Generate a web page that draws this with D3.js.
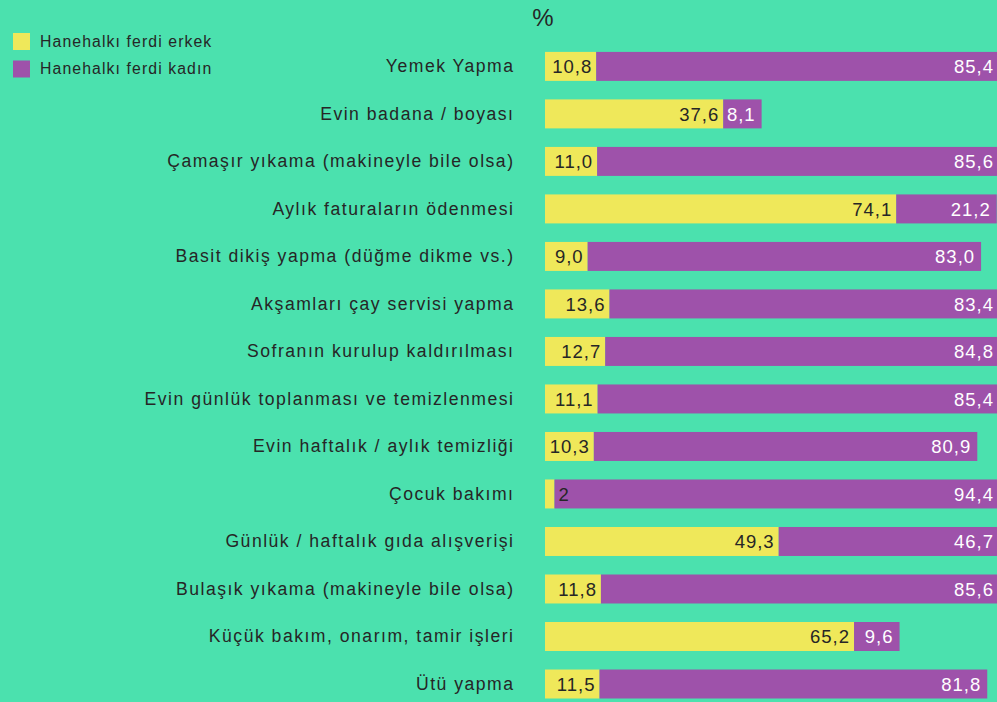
<!DOCTYPE html>
<head>
<meta charset="utf-8">
<script src="https://d3js.org/d3.v7.min.js"></script>
<style>
  body { margin: 0; background: #4be1ae; overflow: hidden; }
  text { font-family: "Liberation Sans", Arial, sans-serif; fill: #262626; }
  .cat { font-size: 17.6px; letter-spacing: 1.5px; }
  .val { font-size: 18.5px; letter-spacing: 1px; }
  .leg { font-size: 15.8px; letter-spacing: 1.1px; }
</style>
</head>
<body>
<script>
  var categories = [
    "Yemek Yapma",
    "Evin badana / boyası",
    "Çamaşır yıkama (makineyle bile olsa)",
    "Aylık faturaların ödenmesi",
    "Basit dikiş yapma (düğme dikme vs.)",
    "Akşamları çay servisi yapma",
    "Sofranın kurulup kaldırılması",
    "Evin günlük toplanması ve temizlenmesi",
    "Evin haftalık / aylık temizliği",
    "Çocuk bakımı",
    "Günlük / haftalık gıda alışverişi",
    "Bulaşık yıkama (makineyle bile olsa)",
    "Küçük bakım, onarım, tamir işleri",
    "Ütü yapma"
  ];
  var erkek = [10.8, 37.6, 11.0, 74.1, 9.0, 13.6, 12.7, 11.1, 10.3, 2, 49.3, 11.8, 65.2, 11.5];
  var kadin = [85.4, 8.1, 85.6, 21.2, 83.0, 83.4, 84.8, 85.4, 80.9, 94.4, 46.7, 85.6, 9.6, 81.8];
  var seriesNames = ["Hanehalkı ferdi erkek", "Hanehalkı ferdi kadın"];

  var W = 997, H = 702;
  var yellow = "#efe85a", purple = "#9e52aa";
  // narrow values are printed outside the bar without decimals
  var fmt = function(v) { return v < 5 ? String(Math.round(v)) : v.toFixed(1).replace(".", ","); };

  var svg = d3.select("body").append("svg").attr("width", W).attr("height", H);

  var x0 = 545;
  var x = d3.scaleLinear().domain([0, 100]).range([x0, x0 + 474]);
  var y = d3.scaleBand().domain(categories).range([42.4, 708]).paddingInner(0.39).paddingOuter(0.2);

  svg.append("text").attr("x", 543).attr("y", 26).attr("text-anchor", "middle")
    .style("font-size", "24px").text("%");

  var rows = svg.selectAll(".row").data(categories).enter().append("g")
    .attr("transform", function(d) { return "translate(0," + y(d) + ")"; });

  rows.append("text").classed("cat", true)
    .attr("x", 514.5).attr("y", y.bandwidth() / 2 + 6)
    .attr("text-anchor", "end")
    .text(function(d) { return d; });

  rows.append("rect")
    .attr("x", x(0))
    .attr("width", function(d, i) { return x(erkek[i]) - x(0); })
    .attr("height", y.bandwidth())
    .attr("fill", yellow);

  rows.append("rect")
    .attr("x", function(d, i) { return x(erkek[i]); })
    .attr("width", function(d, i) { return x(kadin[i]) - x(0); })
    .attr("height", y.bandwidth())
    .attr("fill", purple);

  // erkek labels: inside end, or just after the bar if too narrow
  rows.append("text").classed("val", true)
    .attr("x", function(d, i) { return erkek[i] < 5 ? x(erkek[i]) + 4 : x(erkek[i]) - 4; })
    .attr("y", y.bandwidth() / 2 + 7)
    .attr("text-anchor", function(d, i) { return erkek[i] < 5 ? "start" : "end"; })
    .text(function(d, i) { return fmt(erkek[i]); });

  rows.append("text").classed("val", true)
    .attr("x", function(d, i) { return Math.min(x(erkek[i] + kadin[i]), 1000) - 6; })
    .attr("y", y.bandwidth() / 2 + 7)
    .attr("text-anchor", "end")
    .style("fill", "#ffffff")
    .text(function(d, i) { return fmt(kadin[i]); });

  var legend = svg.selectAll(".legend").data(seriesNames).enter().append("g")
    .attr("transform", function(d, i) { return "translate(13," + (33 + i * 27.5) + ")"; });
  legend.append("rect").attr("width", 17).attr("height", 17)
    .attr("fill", function(d, i) { return i ? purple : yellow; });
  legend.append("text").classed("leg", true).attr("x", 27).attr("y", 13.5)
    .text(function(d) { return d; });
</script>
</body>
